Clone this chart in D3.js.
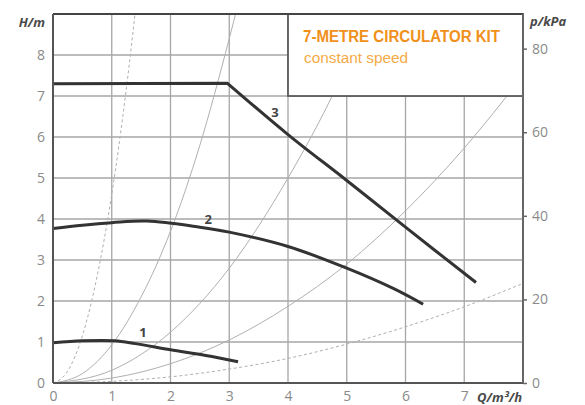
<!DOCTYPE html>
<html><head><meta charset="utf-8">
<script src="https://cdn.jsdelivr.net/npm/d3@7"></script>
<style>body{margin:0;background:#fff}svg{display:block}</style>
</head><body>
<svg id="c" width="585" height="405"></svg>
<script>
// ---- data ----
const qTicks = [0,1,2,3,4,5,6,7];
const hTicks = [0,1,2,3,4,5,6,7,8];
const pTicks = [0,20,40,60,80];
const curve1 = [[0,0.98],[0.5,1.03],[1.05,1.03],[1.4,0.96],[2,0.81],[2.6,0.67],[3.15,0.52]];
const curve2 = [[0,3.77],[0.5,3.85],[1,3.91],[1.6,3.95],[2.5,3.8],[3,3.68],[4,3.33],[5,2.8],[5.8,2.3],[6.3,1.92]];
const curve3 = [[0,7.3],[2.97,7.31],[4,6.06],[5,4.94],[6,3.8],[7.2,2.45]];
const pumpLabels = [{t:"1",q:1.53,h:1.12},{t:"2",q:2.64,h:3.88},{t:"3",q:3.78,h:6.5}];
const sys1 = [[0,0],[0.25,0.29],[0.5,1.15],[0.75,2.6],[1,4.6],[1.25,7.2],[1.45,9.7]];
const sys2 = [[0,0],[0.5,0.23],[1,0.93],[1.5,2.1],[2,3.7],[2.5,5.8],[3,8.4],[3.3,10.1]];
const sys3 = [[0,0],[1,0.31],[2,1.24],[3,2.8],[4,5.0],[4.7,6.85],[5.5,9.4]];
const sys4 = [[0,0],[1,0.12],[2,0.47],[3,1.05],[4,1.87],[5,2.9],[6,4.2],[7,5.73],[8,7.5]];
const sys5 = [[0,0],[1,0.04],[2,0.15],[3,0.34],[4,0.6],[5,0.95],[6,1.37],[7,1.86],[8,2.43]];
const sysCurves = [{d:sys1,dash:"3,2.5"},{d:sys2,dash:null},{d:sys3,dash:null},{d:sys4,dash:null},{d:sys5,dash:"3,2.5"}];

// ---- layout ----
const svg = d3.select("#c");
const L=53,R=523,T=14,B=383;
const x = d3.scaleLinear([0,8],[L,R]);
const y = d3.scaleLinear([0,9],[B,T]);
const yk = d3.scaleLinear([0,9*9.81],[B,T]);

svg.append("defs").append("clipPath").attr("id","clip")
  .append("rect").attr("x",L).attr("y",T).attr("width",R-L).attr("height",B-T);

// gridlines
const g = svg.append("g").attr("stroke","#a6a6a6").attr("stroke-width",1.3);
g.selectAll(".v").data(qTicks.filter(d=>d>0)).join("line")
  .attr("x1",d=>x(d)).attr("x2",d=>x(d)).attr("y1",T).attr("y2",B);
g.selectAll(".h").data(hTicks.filter(d=>d>0)).join("line")
  .attr("x1",L).attr("x2",R).attr("y1",d=>y(d)).attr("y2",d=>y(d));

// system curves
const line = d3.line().x(d=>x(d[0])).y(d=>y(d[1])).curve(d3.curveMonotoneX);
const sg = svg.append("g").attr("clip-path","url(#clip)");
sysCurves.forEach(s=>{
  sg.append("path").attr("d",line(s.d)).attr("fill","none")
    .attr("stroke","#b0b0b0").attr("stroke-width",1)
    .attr("stroke-dasharray",s.dash);
});

// title box
svg.append("rect").attr("x",x(4)).attr("y",T).attr("width",R-x(4)).attr("height",y(7)-T)
  .attr("fill","#fff").attr("stroke","#5a5a5a").attr("stroke-width",1.8);
svg.append("text").attr("x",303).attr("y",42).attr("font-family","Liberation Sans, Arial, sans-serif")
  .attr("font-weight","bold").attr("font-size",16).attr("fill","#f0901a")
  .attr("textLength",197).attr("lengthAdjust","spacingAndGlyphs").text("7-METRE CIRCULATOR KIT");
svg.append("text").attr("x",304).attr("y",63).attr("font-family","Liberation Sans, Arial, sans-serif")
  .attr("font-size",15.5).attr("fill","#f5aa45")
  .attr("textLength",104).attr("lengthAdjust","spacingAndGlyphs").text("constant speed");

// pump curves
const smooth = d3.line().x(d=>x(d[0])).y(d=>y(d[1])).curve(d3.curveCatmullRom.alpha(0.5));
const straight = d3.line().x(d=>x(d[0])).y(d=>y(d[1])).curve(d3.curveLinear);
[curve1,curve2].forEach(c=>{
  svg.append("path").attr("d",smooth(c)).attr("fill","none").attr("stroke","#333")
    .attr("stroke-width",3);
});
// curve 3: flat part then a smooth descending part meeting at a sharp corner
svg.append("path").attr("d",straight(curve3.slice(0,2)) + smooth(curve3.slice(1)).replace(/^M/,"L"))
  .attr("fill","none").attr("stroke","#333").attr("stroke-width",3).attr("stroke-linejoin","round");

svg.selectAll(".pl").data(pumpLabels).join("text")
  .attr("x",d=>x(d.q)).attr("y",d=>y(d.h)).attr("text-anchor","middle")
  .attr("font-family","Open Sans, sans-serif").attr("font-weight","bold").attr("font-size",13)
  .attr("fill","#444").text(d=>d.t);

// frame
const fr = svg.append("g").attr("stroke","#555").attr("stroke-width",2).attr("fill","none");
fr.append("line").attr("x1",L).attr("x2",R).attr("y1",T).attr("y2",T).attr("stroke","#444");
fr.append("line").attr("x1",L).attr("x2",R).attr("y1",B).attr("y2",B);
fr.append("line").attr("x1",L).attr("x2",L).attr("y1",T).attr("y2",B);
fr.append("line").attr("x1",R).attr("x2",R).attr("y1",T).attr("y2",B).attr("stroke","#666");

// axes (labels)
function style(sel){
  sel.select(".domain").remove();
  sel.selectAll("text").attr("font-family","Open Sans, sans-serif").attr("font-size",14).attr("fill","#8a8a8a");
}
svg.append("g").attr("transform",`translate(0,${B})`)
  .call(d3.axisBottom(x).tickValues(qTicks).tickSize(0).tickPadding(8).tickFormat(d3.format("d")))
  .call(style);
svg.append("g").attr("transform",`translate(${L},0)`)
  .call(d3.axisLeft(y).tickValues(hTicks).tickSize(0).tickPadding(8).tickFormat(d3.format("d")))
  .call(style);
const ra = svg.append("g").attr("transform",`translate(${R},0)`)
  .call(d3.axisRight(yk).tickValues(pTicks).tickSize(4).tickPadding(5).tickFormat(d3.format("d")))
  .call(style);
ra.selectAll("line").attr("stroke","#666").attr("stroke-width",1.5);

// axis titles
const at = {"font-family":"Open Sans, sans-serif","font-style":"italic","font-weight":"bold","font-size":13,"fill":"#4a4a4a"};
function addT(txt,xx,yy,anchor){
  const t=svg.append("text").attr("x",xx).attr("y",yy).attr("text-anchor",anchor).text(txt);
  Object.entries(at).forEach(([k,v])=>t.attr(k,v));
}
addT("H/m",45,27,"end");
addT("p/kPa",530,26,"start");
addT("Q/m³/h",522,402,"end");
</script>
</body></html>
